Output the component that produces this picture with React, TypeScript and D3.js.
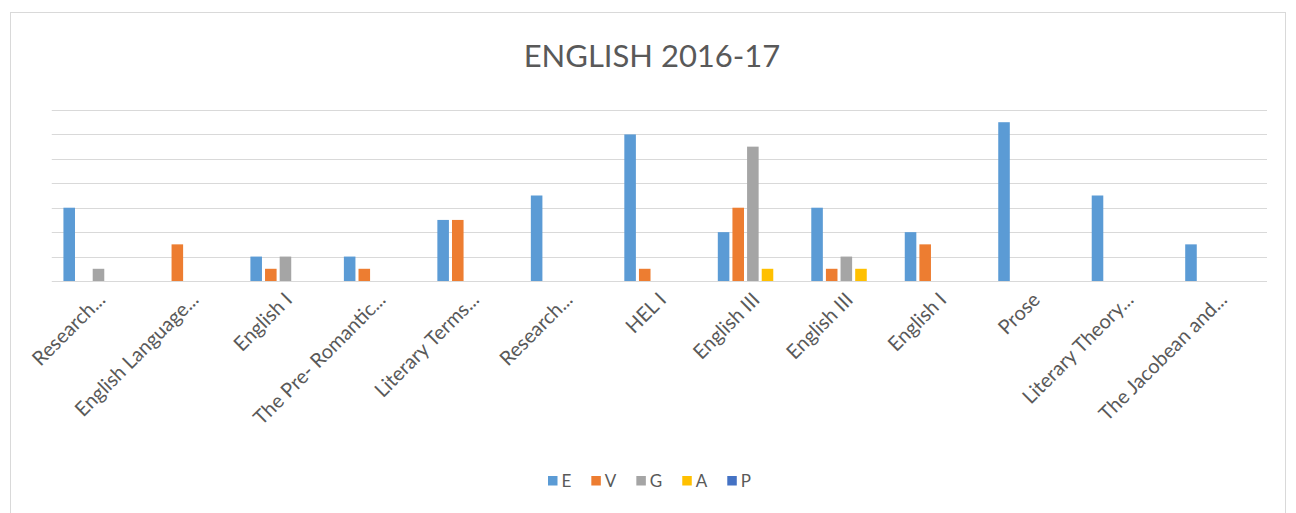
import React, { useRef, useEffect } from "react";
import * as d3 from "d3";

const categories = [
  "Research...",
  "English Language...",
  "English I",
  "The Pre- Romantic...",
  "Literary Terms...",
  "Research...",
  "HEL I",
  "English III",
  "English III",
  "English I",
  "Prose",
  "Literary Theory...",
  "The Jacobean and...",
];

const seriesNames = ["E", "V", "G", "A", "P"];
const seriesColors = ["#5B9BD5", "#ED7D31", "#A5A5A5", "#FFC000", "#4472C4"];

const eValues = [6, 0, 2, 2, 5, 7, 12, 4, 6, 4, 13, 7, 3];
const vValues = [0, 3, 1, 1, 5, 0, 1, 6, 1, 3, 0, 0, 0];
const gValues = [1, 0, 2, 0, 0, 0, 0, 11, 2, 0, 0, 0, 0];
const aValues = [0, 0, 0, 0, 0, 0, 0, 1, 1, 0, 0, 0, 0];
const pValues = [0, 0, 0, 0, 0, 0, 0, 0, 0, 0, 0, 0, 0];

const yTicks = [0, 2, 4, 6, 8, 10, 12, 14];

const dims = {
  width: 1296,
  height: 513,
  left: 51.75,
  right: 1267,
  top: 110,
  bottom: 281,
};

const FONT = "Lato, 'Noto Sans', sans-serif";
const TEXT = "#595959";

const App = () => {
  const ref = useRef(null);

  useEffect(() => {
    document.body.style.margin = "0";
    const svg = d3.select(ref.current);
    svg.selectAll("*").remove();

    const allValues = [eValues, vValues, gValues, aValues, pValues];

    // chart area border
    svg
      .append("rect")
      .attr("x", 10.5)
      .attr("y", 12.5)
      .attr("width", 1275)
      .attr("height", 520)
      .attr("fill", "#fff")
      .attr("stroke", "#D9D9D9");

    svg
      .append("text")
      .attr("x", 652)
      .attr("y", 67)
      .attr("text-anchor", "middle")
      .attr("fill", TEXT)
      .style("font-family", FONT)
      .style("font-size", "31px")
      .text("ENGLISH 2016-17");

    const x0 = d3
      .scaleBand()
      .domain(d3.range(categories.length).map(String))
      .range([dims.left, dims.right])
      .paddingInner(0.25)
      .paddingOuter(0.125);

    const x1 = d3
      .scaleBand()
      .domain(seriesNames)
      .range([0, x0.bandwidth()])
      .paddingInner(0.21);

    const y = d3.scaleLinear().domain([0, 14]).range([dims.bottom, dims.top]);

    // gridlines
    svg
      .append("g")
      .selectAll("line")
      .data(yTicks)
      .join("line")
      .attr("x1", dims.left)
      .attr("x2", dims.right)
      .attr("y1", (d) => Math.round(y(d)) + 0.5)
      .attr("y2", (d) => Math.round(y(d)) + 0.5)
      .attr("stroke", "#D9D9D9")
      .attr("stroke-width", 1);

    const groups = svg
      .append("g")
      .selectAll("g")
      .data(categories)
      .join("g")
      .attr("transform", (d, i) => `translate(${x0(String(i))},0)`);

    groups
      .selectAll("rect")
      .data((d, i) =>
        seriesNames.map((s, k) => ({ s, k, v: allValues[k][i] }))
      )
      .join("rect")
      .attr("x", (d) => x1(d.s))
      .attr("width", x1.bandwidth())
      .attr("y", (d) => y(d.v))
      .attr("height", (d) => y(0) - y(d.v))
      .attr("fill", (d) => seriesColors[d.k]);

    // category labels, rotated
    svg
      .append("g")
      .selectAll("text")
      .data(categories)
      .join("text")
      .attr("text-anchor", "end")
      .attr(
        "transform",
        (d, i) =>
          `translate(${x0(String(i)) + x0.bandwidth() / 2 + 8},${dims.bottom + 20}) rotate(-45)`
      )
      .attr("fill", TEXT)
      .style("font-family", FONT)
      .style("font-size", "20px")
      .text((d) => d);

    // legend
    const legend = svg.append("g");
    let lx = 548;
    seriesNames.forEach((s, k) => {
      legend
        .append("rect")
        .attr("x", lx)
        .attr("y", 476)
        .attr("width", 9.5)
        .attr("height", 9.5)
        .attr("fill", seriesColors[k]);
      const t = legend
        .append("text")
        .attr("x", lx + 13.5)
        .attr("y", 487)
        .attr("fill", TEXT)
        .style("font-family", FONT)
        .style("font-size", "17px")
        .text(s);
      const w = (t.node() as SVGTextElement).getComputedTextLength();
      lx += 13.5 + w + 20;
    });

    return () => undefined;
  }, []);

  return <svg ref={ref} width={dims.width} height={dims.height} style={{ display: "block" }}></svg>;
};

export default App;
